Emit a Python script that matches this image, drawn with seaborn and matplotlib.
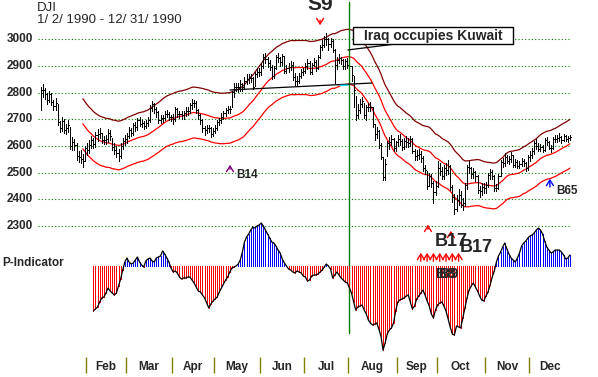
import numpy as np
import pandas as pd
import matplotlib
matplotlib.use("Agg")
import matplotlib.pyplot as plt
from matplotlib.patches import Rectangle
import seaborn as sns

# DJI 1990, daily bars, month by month
jan_close = [2810, 2810, 2796, 2773, 2794, 2766, 2751, 2761, 2689, 2669, 2693, 2659, 2666, 2678, 2600, 2615, 2604, 2561, 2560, 2553, 2543, 2591]
jan_high = [2821, 2834, 2818, 2800, 2808, 2800, 2773, 2780, 2757, 2695, 2710, 2700, 2684, 2697, 2672, 2633, 2627, 2611, 2582, 2587, 2570, 2600]
jan_low = [2734, 2785, 2777, 2758, 2765, 2752, 2735, 2735, 2680, 2653, 2658, 2648, 2644, 2654, 2590, 2587, 2584, 2549, 2540, 2538, 2522, 2545]

feb_close = [2586, 2603, 2623, 2607, 2640, 2645, 2648, 2624, 2624, 2625, 2650, 2636, 2597, 2584, 2575, 2564, 2602, 2618, 2627]
feb_high = [2612, 2622, 2636, 2630, 2652, 2664, 2666, 2650, 2639, 2640, 2663, 2661, 2630, 2610, 2600, 2589, 2611, 2631, 2641]
feb_low = [2567, 2575, 2592, 2593, 2598, 2620, 2630, 2613, 2606, 2607, 2615, 2622, 2587, 2570, 2558, 2545, 2557, 2590, 2605]

mar_close = [2636, 2660, 2650, 2677, 2670, 2696, 2683, 2686, 2675, 2688, 2696, 2741, 2756, 2739, 2728, 2696, 2704, 2704, 2721, 2720, 2707, 2707]
mar_high = [2648, 2670, 2668, 2688, 2690, 2705, 2708, 2699, 2694, 2697, 2710, 2753, 2770, 2762, 2745, 2733, 2715, 2718, 2732, 2735, 2728, 2718]
mar_low = [2612, 2630, 2638, 2640, 2658, 2660, 2674, 2670, 2662, 2667, 2675, 2690, 2731, 2725, 2710, 2685, 2686, 2690, 2697, 2708, 2698, 2693]

apr_close = [2700, 2737, 2719, 2721, 2717, 2723, 2732, 2730, 2752, 2763, 2762, 2734, 2715, 2696, 2666, 2659, 2666, 2666, 2645, 2657]
apr_high = [2719, 2745, 2744, 2733, 2731, 2731, 2745, 2747, 2760, 2778, 2771, 2767, 2740, 2721, 2700, 2676, 2679, 2680, 2673, 2666]
apr_low = [2684, 2694, 2708, 2705, 2702, 2703, 2712, 2718, 2722, 2740, 2748, 2725, 2703, 2681, 2652, 2640, 2648, 2653, 2635, 2638]

may_close = [2669, 2690, 2696, 2710, 2722, 2734, 2739, 2739, 2802, 2822, 2822, 2820, 2832, 2820, 2845, 2852, 2856, 2855, 2821, 2870, 2879, 2877]
may_high = [2677, 2698, 2705, 2722, 2731, 2741, 2750, 2749, 2808, 2838, 2835, 2837, 2846, 2838, 2857, 2869, 2869, 2868, 2860, 2879, 2891, 2893]
may_low = [2648, 2659, 2680, 2685, 2701, 2713, 2723, 2722, 2747, 2785, 2805, 2804, 2808, 2807, 2813, 2833, 2838, 2839, 2813, 2826, 2858, 2861]

jun_close = [2901, 2935, 2925, 2912, 2897, 2862, 2893, 2933, 2930, 2914, 2936, 2882, 2894, 2895, 2902, 2857, 2845, 2842, 2862, 2879, 2881]
jun_high = [2910, 2943, 2947, 2933, 2921, 2905, 2900, 2941, 2948, 2935, 2945, 2932, 2905, 2910, 2919, 2915, 2875, 2863, 2873, 2888, 2893]
jun_low = [2866, 2893, 2910, 2897, 2884, 2850, 2855, 2890, 2914, 2900, 2905, 2872, 2872, 2877, 2883, 2848, 2830, 2827, 2835, 2854, 2866]

jul_close = [2899, 2912, 2879, 2905, 2915, 2891, 2933, 2970, 2980, 3000, 3000, 2982, 2994, 2961, 2905, 2923, 2931, 2921, 2899, 2917, 2905]
jul_high = [2912, 2925, 2917, 2912, 2928, 2921, 2941, 2980, 2996, 3013, 3024, 3006, 3004, 3000, 2962, 2933, 2945, 2935, 2925, 2926, 2929]
jul_low = [2872, 2889, 2869, 2870, 2898, 2881, 2888, 2930, 2961, 2970, 2977, 2961, 2972, 2952, 2838, 2889, 2911, 2907, 2889, 2890, 2893]

aug_close = [2899, 2865, 2810, 2717, 2735, 2759, 2770, 2716, 2747, 2748, 2748, 2681, 2645, 2656, 2604, 2560, 2483, 2533, 2612, 2614, 2627, 2593, 2614]
aug_high = [2916, 2901, 2862, 2788, 2757, 2776, 2785, 2760, 2755, 2762, 2766, 2745, 2683, 2672, 2660, 2610, 2560, 2550, 2618, 2634, 2641, 2630, 2620]
aug_low = [2884, 2845, 2745, 2697, 2704, 2725, 2748, 2704, 2696, 2730, 2732, 2672, 2623, 2629, 2594, 2550, 2472, 2474, 2562, 2590, 2605, 2583, 2580]

sep_close = [2628, 2620, 2597, 2620, 2616, 2613, 2626, 2583, 2564, 2567, 2571, 2557, 2518, 2512, 2452, 2486, 2460, 2427, 2452]
sep_high = [2640, 2645, 2627, 2630, 2638, 2632, 2638, 2630, 2590, 2585, 2590, 2580, 2562, 2530, 2505, 2498, 2495, 2470, 2470]
sep_low = [2600, 2603, 2585, 2590, 2598, 2596, 2600, 2575, 2548, 2548, 2553, 2540, 2508, 2495, 2440, 2450, 2445, 2385, 2418]

oct_close = [2516, 2505, 2489, 2517, 2511, 2524, 2446, 2408, 2365, 2398, 2416, 2381, 2388, 2453, 2521, 2517, 2494, 2504, 2486, 2436, 2430, 2448, 2442]
oct_high = [2545, 2535, 2520, 2530, 2535, 2548, 2530, 2455, 2420, 2415, 2440, 2430, 2405, 2460, 2530, 2545, 2520, 2518, 2505, 2490, 2450, 2462, 2460]
oct_low = [2445, 2490, 2475, 2475, 2490, 2496, 2437, 2390, 2344, 2355, 2380, 2370, 2360, 2375, 2440, 2500, 2480, 2480, 2470, 2425, 2410, 2415, 2425]

nov_close = [2455, 2491, 2503, 2486, 2441, 2444, 2489, 2540, 2535, 2560, 2545, 2550, 2565, 2530, 2539, 2527, 2533, 2544, 2535, 2519, 2560]
nov_high = [2465, 2500, 2515, 2510, 2490, 2458, 2495, 2548, 2555, 2575, 2568, 2563, 2578, 2565, 2550, 2548, 2545, 2555, 2550, 2540, 2566]
nov_low = [2425, 2448, 2478, 2475, 2432, 2430, 2440, 2488, 2522, 2525, 2535, 2533, 2540, 2522, 2520, 2518, 2518, 2525, 2525, 2508, 2510]

dec_close = [2566, 2580, 2610, 2602, 2590, 2597, 2586, 2622, 2615, 2594, 2593, 2627, 2626, 2629, 2634, 2621, 2637, 2626, 2630, 2634]
dec_high = [2580, 2592, 2620, 2628, 2610, 2609, 2604, 2630, 2635, 2620, 2603, 2635, 2642, 2640, 2650, 2637, 2645, 2642, 2638, 2643]
dec_low = [2545, 2555, 2570, 2590, 2580, 2580, 2576, 2580, 2605, 2590, 2578, 2590, 2615, 2615, 2620, 2612, 2620, 2620, 2617, 2622]

month_names = ["Jan", "Feb", "Mar", "Apr", "May", "Jun", "Jul", "Aug", "Sep", "Oct", "Nov", "Dec"]
price_levels = [3000, 2900, 2800, 2700, 2600, 2500, 2400, 2300]

# P-Indicator, one value per trading day from day 25 (early Feb) to the end
p_start = 25
p_values = [-45, -43, -41, -36, -32, -31, -27, -22, -25, -27,
            -29, -27, -20, -13, -4, 4, 8, 4, 2, 3,
            6, 9, 4, 1, -1, 5, 7, 8, 5, 4,
            8, 9, 10, 15, 12, 8, 4, -2, -6, -5,
            -7, -11, -13, -12, -12, -11, -11, -14, -17, -21,
            -25, -26, -29, -32, -37, -42, -38, -35, -33, -31,
            -26, -22, -18, -14, -11, -6, -2, -1, 0, 2,
            6, 14, 24, 29, 32, 36, 39, 38, 40, 41,
            43, 40, 36, 32, 28, 24, 23, 20, 16, 13,
            7, 3, 0, -3, -4, -6, -7, -5, -6, -7,
            -10, -11, -15, -14, -10, -9, -9, -8, -6, -4,
            -1, 2, 0, -3, -12, -9, -6, -9, -12, -14,
            -16, -17, -22, -27, -36, -44, -41, -40, -39, -44,
            -48, -54, -57, -59, -58, -57, -63, -70, -84, -77,
            -68, -64, -62, -57, -45, -36, -34, -33, -32, -30,
            -29, -36, -43, -40, -33, -30, -27, -24, -29, -35,
            -40, -48, -52, -44, -39, -37, -36, -40, -45, -53,
            -61, -68, -69, -60, -61, -62, -52, -42, -32, -24,
            -20, -17, -21, -25, -30, -34, -35, -30, -26, -19,
            -11, -5, 4, 10, 14, 19, 23, 17, 12, 8,
            6, 4, 8, 13, 20, 23, 25, 28, 30, 31,
            33, 36, 38, 36, 32, 25, 19, 16, 13, 14,
            16, 16, 16, 14, 11, 7, 8, 11]

closes = [jan_close, feb_close, mar_close, apr_close, may_close, jun_close,
          jul_close, aug_close, sep_close, oct_close, nov_close, dec_close]
highs = [jan_high, feb_high, mar_high, apr_high, may_high, jun_high,
         jul_high, aug_high, sep_high, oct_high, nov_high, dec_high]
lows = [jan_low, feb_low, mar_low, apr_low, may_low, jun_low,
        jul_low, aug_low, sep_low, oct_low, nov_low, dec_low]

close = np.concatenate(closes).astype(float)
high = np.concatenate(highs).astype(float)
low = np.concatenate(lows).astype(float)
days = np.arange(len(close))
month_len = np.array([len(m) for m in closes])
month_start = np.concatenate([[0], np.cumsum(month_len)[:-1]])

# 21 day average with +-3.5% bands, like the original
df = pd.DataFrame({"day": days, "close": close})
df["mid"] = df["close"].rolling(21).mean()
df["upper"] = df["mid"] * 1.035
df["lower"] = df["mid"] * 0.965
bands = df.dropna()

pday = np.arange(p_start, p_start + len(p_values))
pval = np.array(p_values, dtype=float)

sns.set_style("white")
plt.rcParams['font.family'] = ['Liberation Sans', 'DejaVu Sans']

fig = plt.figure(figsize=(5.98, 3.77), dpi=100)
ax = fig.add_axes([0, 0, 1, 1])
ax.set_xlim(-19.46, 265.4)
ax.set_ylim(1735, 3147)
ax.axis('off')

ax2 = fig.add_axes([0, 0, 1, 1], sharex=ax)
ax2.set_ylim(-111, 266)
ax2.patch.set_alpha(0)
ax2.axis('off')

# grid and price labels
ax.hlines(price_levels, -1.4, 252, colors='#008000', linestyles=(0, (1, 2)), lw=0.8)
for p in price_levels:
    ax.text(-3.7, p, str(p), ha='right', va='center', fontsize=8.5, fontweight='bold')

# bands
sns.lineplot(data=bands, x="day", y="upper", ax=ax, color='#800000', lw=0.9)
sns.lineplot(data=bands, x="day", y="mid", ax=ax, color='#ff0000', lw=0.9)
sns.lineplot(data=bands, x="day", y="lower", ax=ax, color='#ff0000', lw=0.9)

# price bars
ax.vlines(days, low, high, color='black', lw=0.72, antialiased=False)
ax.hlines(close, days, days + 0.6, color='black', lw=0.72, antialiased=False)

# Aug 2 line and annotations
ax.axvline(146.7, ymin=0.117, ymax=0.995, color='#008000', lw=1)
ax.plot([90.1, 157.7], [2810, 2836], color='black', lw=0.9)
ax.plot([142.5, 146.3], [2827, 2828], color='#00e0ff', lw=1)
ax.plot([146.3, 168.7], [2960, 2982], color='black', lw=0.9)
ax.add_patch(Rectangle((148.7, 2982), 76.2, 64, facecolor='white', edgecolor='black', lw=1, zorder=5))
ax.text(186.8, 3014, "Iraq occupies Kuwait", ha='center', va='center', fontsize=10,
        fontweight='bold', zorder=6)

ax.text(133.3, 3108, "S9", ha='center', va='baseline', fontsize=15, fontweight='bold')
arrow = dict(arrowstyle='->,head_length=0.4,head_width=0.25', lw=1)
ax.annotate('', xy=(133, 3042), xytext=(133, 3082), arrowprops=dict(arrow, color='red'))
ax.annotate('', xy=(90.1, 2540), xytext=(90.1, 2503), arrowprops=dict(arrow, color='#800080'))
ax.text(92.9, 2492, "B14", ha='left', va='center', fontsize=8.5, fontweight='bold')
ax.annotate('', xy=(242.5, 2488), xytext=(242.5, 2436), arrowprops=dict(arrow, color='blue'))
ax.text(245.4, 2432, "B65", ha='left', va='center', fontsize=8.5, fontweight='bold')
ax.annotate('', xy=(184.4, 2316), xytext=(184.4, 2278), arrowprops=dict(arrow, color='red'))
ax.annotate('', xy=(195.3, 2293), xytext=(195.3, 2256), arrowprops=dict(arrow, color='red'))

# P-Indicator
colors = ['#ff0000' if v < 0 else '#0000ff' for v in p_values]
ax2.vlines(pday, 0, pval, colors=colors, lw=0.72, antialiased=False)
sns.lineplot(x=pday, y=pval, ax=ax2, color='black', lw=0.9)
ax2.text(-18.5, 3, "P-Indicator", ha='left', va='center', fontsize=8.5, fontweight='bold')

for d in [181, 184, 187, 190, 193, 196, 199]:
    ax2.annotate('', xy=(d, 16), xytext=(d, 2), arrowprops=dict(arrow, color='red'))
ax2.text(195.6, 24.5, "B17", ha='center', va='center', fontsize=13, fontweight='bold')
ax2.text(207.3, 18, "B17", ha='center', va='center', fontsize=13, fontweight='bold')
ax2.text(193, -8, "B8", ha='center', va='center', fontsize=11, fontweight='bold')
ax2.text(194.5, -8, "B9", ha='center', va='center', fontsize=11, fontweight='bold')

# month separators and labels
ax2.vlines(month_start[1:] - 0.5, -91, -107, color='#808000', lw=1)
for s, n, name in zip(month_start[1:], month_len[1:], month_names[1:]):
    ax2.text(s + (n - 1) / 2, -101, name, ha='center', va='center', fontsize=8.5, fontweight='bold')

fig.text(37 / 598, 1 - 2 / 377, "DJI", ha='left', va='top', fontsize=9.5)
fig.text(37 / 598, 1 - 14 / 377, "1/ 2/ 1990 - 12/ 31/ 1990", ha='left', va='top', fontsize=9.5)

fig.savefig("out.png", dpi=100)
